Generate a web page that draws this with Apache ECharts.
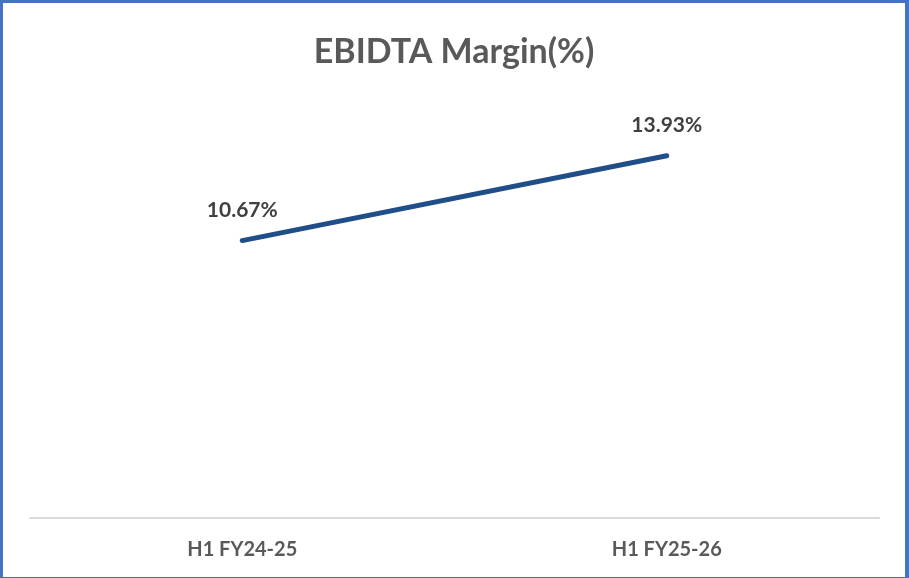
<!DOCTYPE html>
<html>
<head>
<meta charset="utf-8">
<script src="https://cdn.jsdelivr.net/npm/echarts@6/dist/echarts.min.js"></script>
<style>
    html, body { margin: 0; padding: 0; background: #fff; }
    #frame {
        box-sizing: border-box;
        width: 909px;
        height: 578px;
        border-style: solid;
        border-color: #4472C4;
        border-width: 3px 4px 1px 3px;
    }
    #chart { width: 100%; height: 100%; }
</style>
</head>
<body>
<div id="frame"><div id="chart"></div></div>
<script>
    // Chart data
    const categories = ['H1 FY24-25', 'H1 FY25-26'];
    const marginValues = [10.67, 13.93];

    const chart = echarts.init(document.getElementById('chart'));

    const option = {
        animation: false,
        textStyle: { fontFamily: 'Lato' },
        title: {
            text: 'EBIDTA Margin(%)',
            left: 'center',
            top: 27,
            textStyle: {
                fontFamily: 'Lato',
                fontSize: 34,
                fontWeight: 'bold',
                color: '#595959'
            }
        },
        grid: {
            left: 27,
            right: 26,
            top: 99,
            bottom: 59
        },
        xAxis: {
            type: 'category',
            data: categories,
            boundaryGap: true,
            axisLine: { lineStyle: { color: '#D9D9D9', width: 2 } },
            axisTick: { show: false },
            axisLabel: {
                margin: 22,
                fontFamily: 'Lato',
                fontSize: 20,
                fontWeight: 'bold',
                color: '#595959'
            }
        },
        yAxis: {
            type: 'value',
            min: 0,
            max: 16,
            show: false,
            splitLine: { show: false }
        },
        series: [
            {
                name: 'EBIDTA Margin',
                type: 'line',
                data: marginValues,
                showSymbol: true,
                symbol: 'circle',
                symbolSize: 0,
                lineStyle: { color: '#1F4E89', width: 5, cap: 'round' },
                itemStyle: { color: '#1F4E89' },
                label: {
                    show: true,
                    position: 'top',
                    distance: 20,
                    formatter: (p) => p.value.toFixed(2) + '%',
                    fontFamily: 'Lato',
                    fontSize: 21,
                    fontWeight: 'bold',
                    color: '#404040'
                }
            }
        ]
    };

    chart.setOption(option);
</script>
</body>
</html>
